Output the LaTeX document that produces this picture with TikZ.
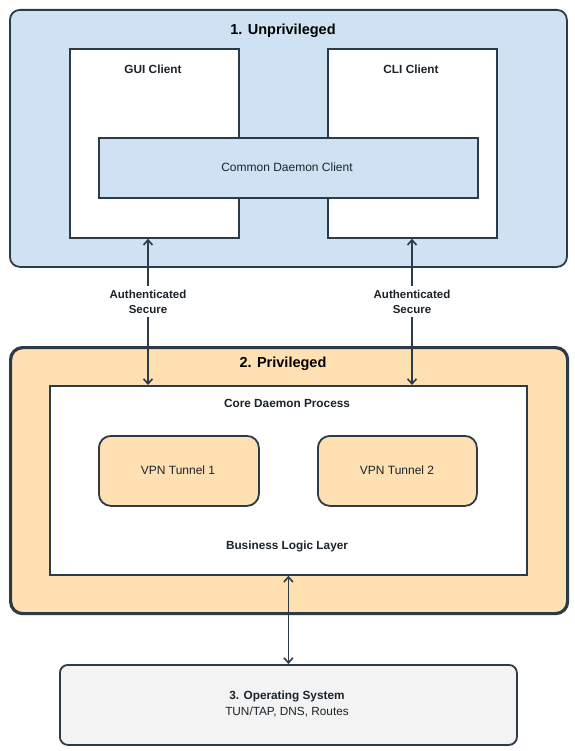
\documentclass[tikz,border=0pt]{standalone}
\usepackage{fontspec}
\setmainfont{Liberation Sans}
\usetikzlibrary{arrows.meta}
\definecolor{ln}{HTML}{2D3B48}
\definecolor{bluef}{HTML}{CFE2F3}
\definecolor{orf}{HTML}{FFE0B2}
\definecolor{grf}{HTML}{F2F3F2}
\begin{document}
\begin{tikzpicture}[x=1pt,y=-1pt,
  box/.style={draw=ln, line width=1.8pt, inner sep=0pt, anchor=north west},
  title/.style={font=\fontsize{14.5}{16}\selectfont\bfseries, text=black},
  sub/.style={font=\fontsize{11.8}{13}\selectfont\bfseries, text=ln!60!black},
  txt/.style={font=\fontsize{12}{13}\selectfont, text=ln!60!black},
  lbl/.style={font=\fontsize{11.5}{15}\selectfont\bfseries, text=ln!60!black, fill=white, align=center, inner sep=4pt},
  arr/.style={draw=ln, line width=1.6pt, {Straight Barb[length=5pt,width=9pt]}-{Straight Barb[length=5pt,width=9pt]}}]
\useasboundingbox (0,0) rectangle (574,751);
\fill[white] (0,0) rectangle (574,751);
% 1. Unprivileged
\node[box, fill=bluef, rounded corners=10pt, minimum width=557pt, minimum height=257pt] (unp) at (9,9) {};
\node[title] (unpt) at (283,31) {1. Unprivileged};
\node[box, fill=white, minimum width=169pt, minimum height=189pt] (gui) at (69,48) {};
\node[sub] (guit) at (153,69) {GUI Client};
\node[box, fill=white, minimum width=169pt, minimum height=189pt] (cli) at (327,48) {};
\node[sub] (clit) at (411,69) {CLI Client};
\node[box, fill=bluef, minimum width=379pt, minimum height=60pt] (common) at (98,137) {};
\node[txt] (commont) at (287,167) {Common Daemon Client};
% 2. Privileged
\node[box, fill=orf, rounded corners=12pt, line width=3.2pt, minimum width=557pt, minimum height=266pt] (priv) at (9,346) {};
\node[title] (privt) at (283,364) {2. Privileged};
\node[box, fill=white, minimum width=477pt, minimum height=189pt] (core) at (49,385) {};
\node[sub] (coret) at (287,403) {Core Daemon Process};
\node[box, fill=orf, rounded corners=12pt, minimum width=160pt, minimum height=70pt] (vpn1) at (98,435) {};
\node[txt] (vpn1t) at (178,470) {VPN Tunnel 1};
\node[box, fill=orf, rounded corners=12pt, minimum width=159pt, minimum height=70pt] (vpn2) at (317,435) {};
\node[txt] (vpn2t) at (397,470) {VPN Tunnel 2};
\node[sub] (blt) at (287,546) {Business Logic Layer};
% 3. OS
\node[box, fill=grf, rounded corners=8pt, minimum width=457pt, minimum height=80pt] (os) at (59,664) {};
\node[font=\fontsize{11.8}{15.5}\selectfont, text=ln!60!black, align=center] (ost) at (287,704) {\textbf{3. Operating System}\\TUN/TAP, DNS, Routes};
% connectors
\draw[arr] (gui.south -| 148,0) -- node[lbl, pos=0.43] {Authenticated\\Secure} (core.north -| 148,0);
\draw[arr] (cli.south -| 412,0) -- node[lbl, pos=0.43] {Authenticated\\Secure} (core.north -| 412,0);
\draw[arr] (core.south) -- (os.north);
\end{tikzpicture}
\end{document}
